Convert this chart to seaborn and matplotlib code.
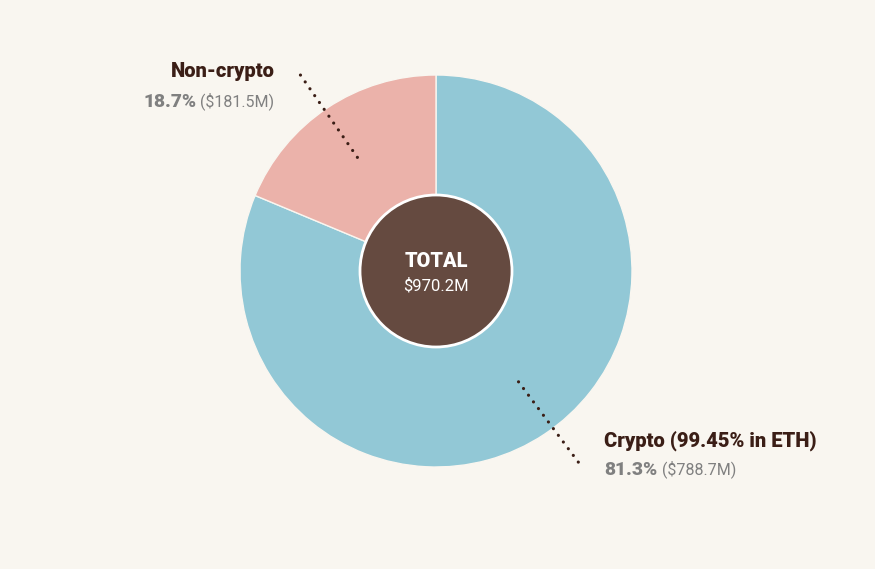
import numpy as np
import matplotlib
matplotlib.use("Agg")
import matplotlib.pyplot as plt
import seaborn as sns

categories = ["Crypto", "Non-crypto"]
label_titles = ["Crypto (99.45% in ETH)", "Non-crypto"]
values_musd = [788.7, 181.5]
shares_pct = [81.3, 18.7]
total_label = "$970.2M"
colors = ["#92c8d6", "#ebb2aa"]

BG = "#f9f6f0"
DARK = "#3b1e16"
GRAY = "#808080"
CENTER = "#654a40"

sns.set_theme(style="white")
plt.rcParams["font.family"] = ["Roboto", "DejaVu Sans"]

W, H = 875, 569
fig = plt.figure(figsize=(W / 100, H / 100), dpi=100, facecolor=BG)
ax = fig.add_axes([0, 0, 1, 1])
ax.set_facecolor(BG)

cx, cy, R = 436, H - 271, 196
wedges, _ = ax.pie(values_musd, colors=colors, startangle=90, counterclock=False,
                   center=(cx, cy), radius=R, frame=True,
                   wedgeprops=dict(edgecolor=BG, linewidth=1.0))
ax.set_xlim(0, W)
ax.set_ylim(0, H)
ax.set_aspect("equal")
ax.axis("off")

circ = plt.Circle((cx, cy), 76, facecolor=CENTER, edgecolor="white", linewidth=2, zorder=5)
ax.add_patch(circ)
ax.text(cx, cy + 10, "TOTAL", ha="center", va="center", color="white",
        fontsize=14.4, fontweight="heavy", zorder=6)
ax.text(cx, cy - 15, total_label, ha="center", va="center", color="white",
        fontsize=12, zorder=6)

fig.canvas.draw()
renderer = fig.canvas.get_renderer()

angle_nudge = [3.0, 1.0]
for i, w in enumerate(wedges):
    mid = np.deg2rad((w.theta1 + w.theta2) / 2 + angle_nudge[i])
    r0, r1 = 0.705 * R, 1.25 * R
    xs = [cx + r0 * np.cos(mid), cx + r1 * np.cos(mid)]
    ys = [cy + r0 * np.sin(mid), cy + r1 * np.sin(mid)]
    ax.plot(xs, ys, linestyle=(0, (0.01, 2.6)), color=DARK, linewidth=2.3,
            dash_capstyle="round", solid_capstyle="round", zorder=7)
    right_side = np.cos(mid) > 0
    pct = f"{shares_pct[i]:.1f}%"
    money = f" (${values_musd[i]:.1f}M)"
    if right_side:
        tx = xs[1] + 22
        ty = ys[1] + 27
        ax.text(tx, ty, label_titles[i], ha="left", va="center", color=DARK,
                fontsize=14.5, fontweight="heavy")
        t1 = ax.text(tx, ty - 29, pct, ha="left", va="center", color=GRAY,
                     fontsize=13.8, fontweight="heavy")
        bb = t1.get_window_extent(renderer)
        x_end = ax.transData.inverted().transform((bb.x1, 0))[0]
        ax.text(x_end, ty - 29, money, ha="left", va="center", color=GRAY, fontsize=11.5)
    else:
        tx = xs[1] - 22
        ty = ys[1] - 2
        ax.text(tx, ty, label_titles[i], ha="right", va="center", color=DARK,
                fontsize=14.5, fontweight="heavy")
        t2 = ax.text(tx, ty - 30, money, ha="right", va="center", color=GRAY, fontsize=11.5)
        bb = t2.get_window_extent(renderer)
        x_start = ax.transData.inverted().transform((bb.x0, 0))[0]
        ax.text(x_start, ty - 30, pct, ha="right", va="center", color=GRAY,
                fontsize=13.8, fontweight="heavy")

fig.savefig("out.png", dpi=100, facecolor=BG)
